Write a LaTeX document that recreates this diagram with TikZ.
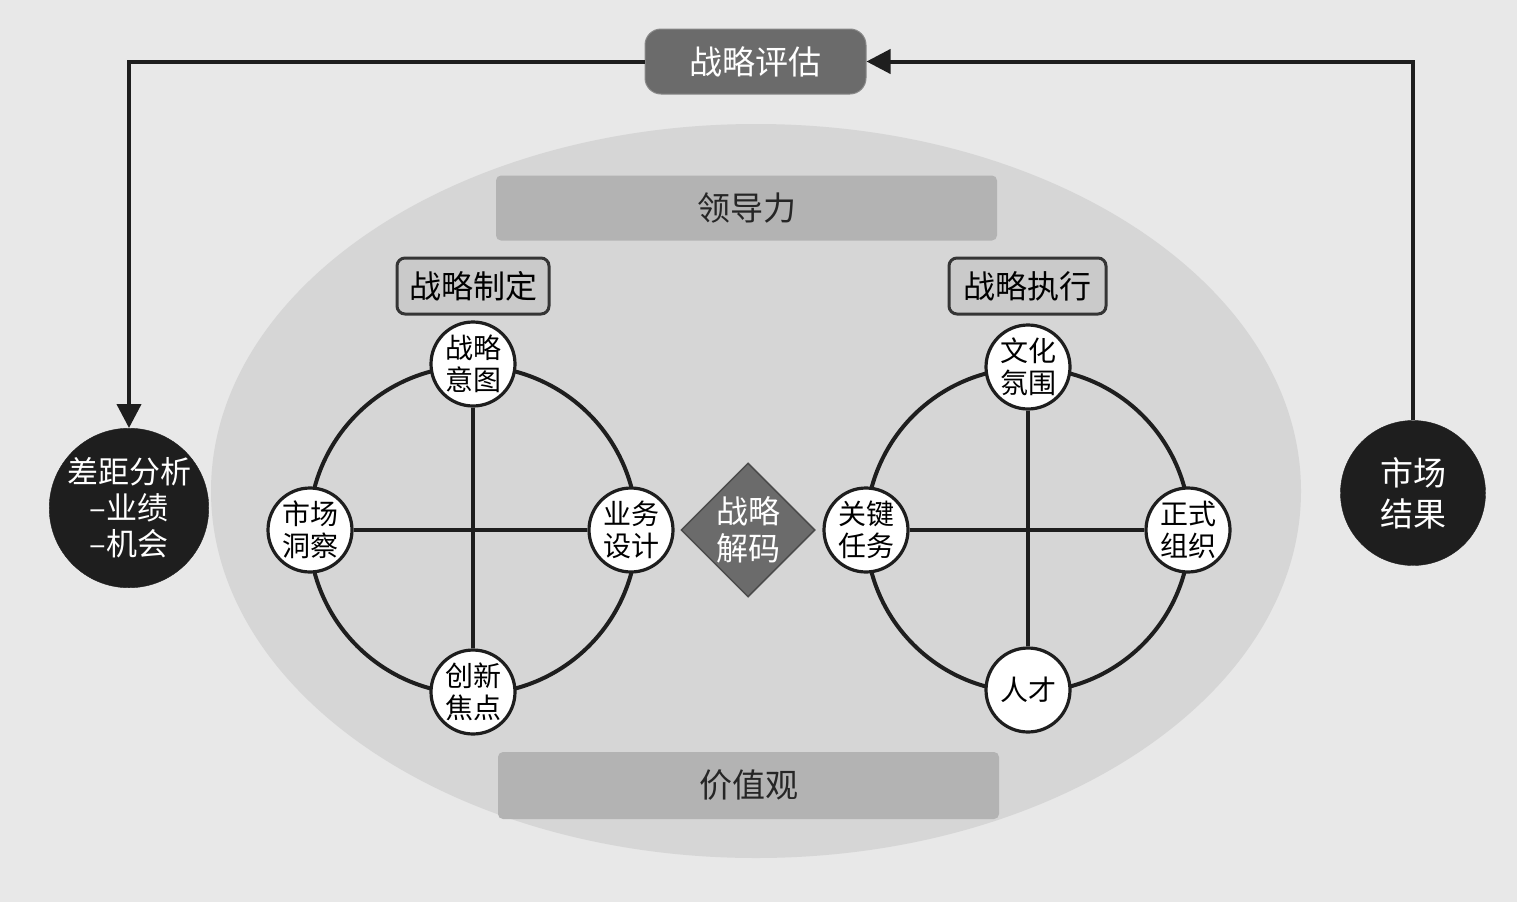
\documentclass[tikz,border=0pt]{standalone}
\usepackage{fontspec}
\newfontfamily\cjk{Noto Sans CJK SC}
\usetikzlibrary{shapes.geometric,arrows.meta}
\definecolor{bgc}{HTML}{E8E8E8}
\definecolor{ellc}{HTML}{D6D6D6}
\definecolor{barc}{HTML}{B3B3B3}
\definecolor{tagc}{HTML}{CACACA}
\definecolor{darkc}{HTML}{6B6B6B}
\definecolor{linec}{HTML}{1E1E1E}
\tikzset{
  conn/.style={line width=4pt, draw=linec},
  arr/.style={-{Triangle[length=24pt,width=24pt]}},
  ring/.style={line width=4pt, draw=linec},
  small/.style={circle, draw=linec, line width=3.2pt, fill=white, minimum size=84pt, inner sep=0pt, align=center, font=\cjk\fontsize{28}{32}\selectfont, text=black},
  bigdot/.style={circle, fill=linec, draw=linec, inner sep=0pt, align=center, text=white},
  bar/.style={rectangle, rounded corners=5pt, fill=barc, minimum width=501pt, minimum height=65pt, font=\cjk\fontsize{33}{36}\selectfont, text=black!85},
  tag/.style={rectangle, rounded corners=8pt, fill=tagc, draw=linec!90, line width=3pt, minimum height=56pt, inner xsep=6pt, font=\cjk\fontsize{32}{36}\selectfont, text=black},
}
\begin{document}
\begin{tikzpicture}[x=1pt,y=-1pt]
\fill[bgc] (0,0) rectangle (1517,902);
\useasboundingbox (0,0) rectangle (1517,902);
\fill[ellc] (756,491) ellipse [x radius=545pt, y radius=367pt];

% top evaluation
\node[rectangle, rounded corners=16pt, fill=darkc, draw=darkc!80, line width=1pt, minimum width=221pt, minimum height=65pt, font=\cjk\fontsize{33}{36}\selectfont, text=white] (eval) at (755.5,61.5) {战略评估};
\node[bigdot, minimum size=150pt, font=\cjk\fontsize{31}{38}\selectfont] (gap) at (129,508) {差距分析\\[-2pt]–业绩\\[-2pt]–机会};
\node[bigdot, minimum size=145pt, font=\cjk\fontsize{33}{41}\selectfont] (res) at (1413,493) {市场\\结果};
\draw[conn, arr] (eval.west) -| (gap.north);
\draw[conn, arr] (res.north) |- (eval.east);

% bars
\node[bar] (lead) at (746.5,208) {领导力};
\node[bar, minimum height=67pt] (val) at (748.5,785.5) {价值观};
\node[tag, minimum width=152pt] (form) at (473,286) {战略制定};
\node[tag, minimum width=157pt] (exec) at (1027.5,286) {战略执行};

% left wheel
\coordinate (lc) at (473,530);
\draw[ring] (lc) circle [radius=164pt];
\node[small] (l1) at (473,364) {战略\\意图};
\node[small] (l2) at (310,530) {市场\\洞察};
\node[small] (l3) at (631,530) {业务\\设计};
\node[small] (l4) at (473,692) {创新\\焦点};
\draw[ring] (l1) -- (l4);
\draw[ring] (l2) -- (l3);

% right wheel
\coordinate (rc) at (1028,530);
\draw[ring] (rc) circle [radius=162pt];
\node[small] (r1) at (1028,367) {文化\\氛围};
\node[small] (r2) at (866,530) {关键\\任务};
\node[small] (r3) at (1188,530) {正式\\组织};
\node[small] (r4) at (1028,690) {人才};
\draw[ring] (r1) -- (r4);
\draw[ring] (r2) -- (r3);

% diamond
\node[diamond, fill=darkc, draw=black!70, line width=1.5pt, minimum width=134pt, minimum height=134pt, inner sep=0pt, align=center, font=\cjk\fontsize{32}{37}\selectfont, text=white] (dec) at (748,530) {战略\\解码};
\end{tikzpicture}
\end{document}
